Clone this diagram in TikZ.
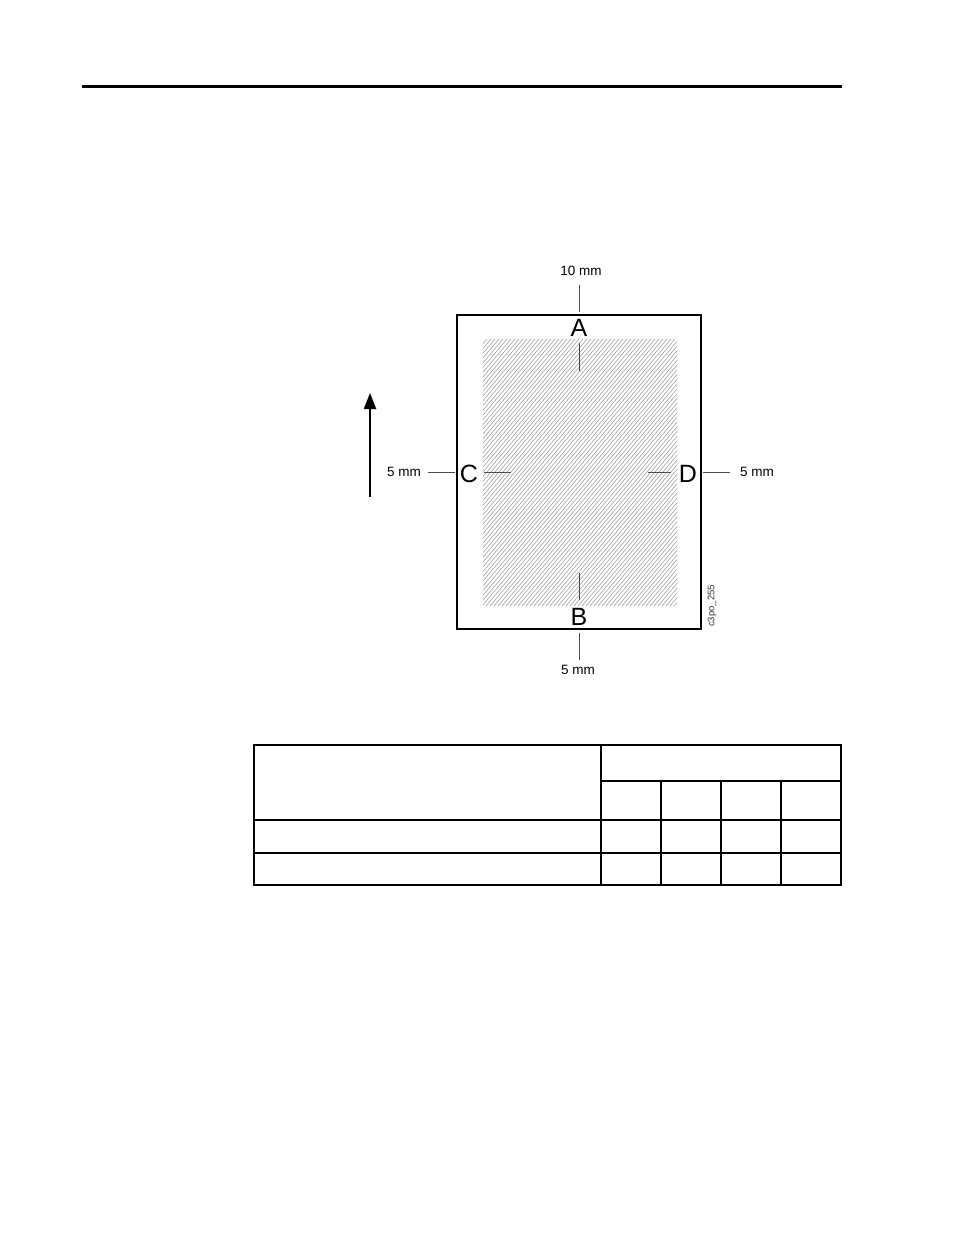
\documentclass[tikz,border=0pt]{standalone}
\usepackage{fontspec}
\setmainfont{Liberation Sans}
\usetikzlibrary{arrows.meta}
\begin{document}
\begin{tikzpicture}[x=1pt,y=-1pt,
  letter/.style={inner sep=0pt,font=\fontsize{25}{25}\selectfont},
  dim/.style={inner sep=0pt,font=\fontsize{13.5}{14}\selectfont},
  tick/.style={line width=1pt,black!70},
  grid/.style={line width=1.5pt,black},
  hatch/.style={line width=0.55pt,black!38}]
\useasboundingbox[fill=white] (0,0) rectangle (954,1235);
% top rule
\draw[line width=3pt] (82,86) -- (842,86);
% hatched printable area
\begin{scope}
\clip (483,339) rectangle (677,606);
\foreach \i in {0,4,...,440} {
  \draw[hatch] (483-225+\i,606) -- (483-225+\i+225,606-267);
}
\end{scope}
% sheet
\draw[line width=1.5pt] (457,315) rectangle (701,629);
% letters
\node[letter] (A) at (579,328) {A};
\node[letter] (B) at (579,617) {B};
\node[letter] (C) at (469,474) {C};
\node[letter] (D) at (688,474) {D};
% dimension labels
\node[dim] (top) at (581,271) {10 mm};
\node[dim] (left) at (404,472) {5 mm};
\node[dim] (right) at (757,472) {5 mm};
\node[dim] (bot) at (578,670) {5 mm};
% ticks
\draw[tick] (579,285) -- (579,312);
\draw[tick] (579,343) -- (579,371);
\draw[tick] (579,573) -- (579,600);
\draw[tick] (579,633) -- (579,660);
\draw[tick] (428,472) -- (455,472);
\draw[tick] (484,472) -- (511,472);
\draw[tick] (648,472) -- (671,472);
\draw[tick] (703,472) -- (730,472);
% figure code
\node[inner sep=0pt,rotate=90,font=\fontsize{9.5}{10}\selectfont,black!80] (code) at (712,606) {c3po\_255};
% feed direction arrow
\coordinate (ar0) at (370,497);
\coordinate (ar1) at (370,393);
\draw[line width=2.4pt,-{Triangle[length=16pt,width=12pt]}] (ar0) -- (ar1);
% table
\draw[grid] (254,745) rectangle (841,885);
\draw[grid] (601,745) -- (601,885);
\draw[grid] (601,781) -- (841,781);
\draw[grid] (254,820) -- (841,820);
\draw[grid] (254,853) -- (841,853);
\draw[grid] (661,781) -- (661,885);
\draw[grid] (721,781) -- (721,885);
\draw[grid] (781,781) -- (781,885);
\end{tikzpicture}
\end{document}
